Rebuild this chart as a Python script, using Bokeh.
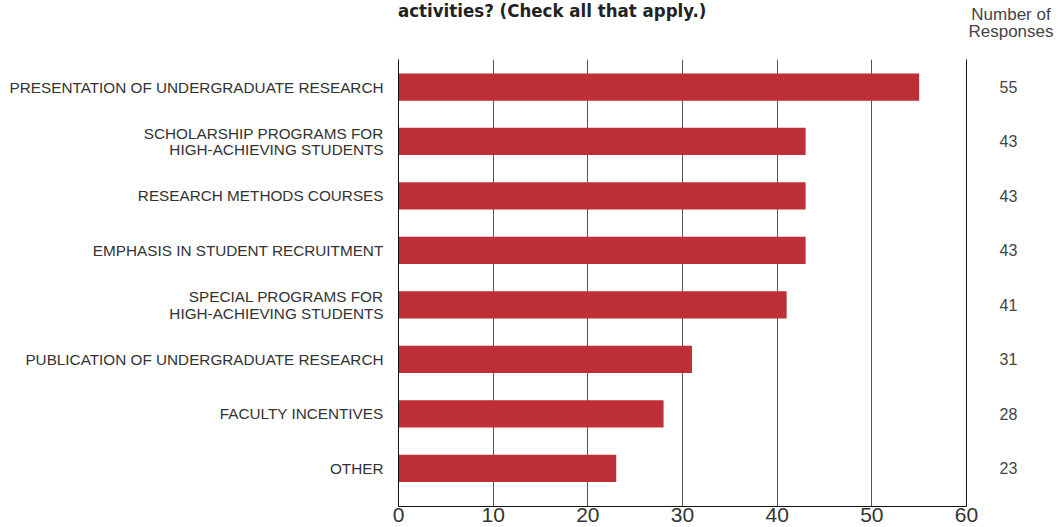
from bokeh.plotting import figure
from bokeh.models import ColumnDataSource, LinearAxis, FixedTicker, Range1d, Div
from bokeh.layouts import column
from bokeh.embed import file_html
from bokeh.resources import INLINE

categories = [
    "PRESENTATION OF UNDERGRADUATE RESEARCH",
    "SCHOLARSHIP PROGRAMS FOR\nHIGH-ACHIEVING STUDENTS",
    "RESEARCH METHODS COURSES",
    "EMPHASIS IN STUDENT RECRUITMENT",
    "SPECIAL PROGRAMS FOR\nHIGH-ACHIEVING STUDENTS",
    "PUBLICATION OF UNDERGRADUATE RESEARCH",
    "FACULTY INCENTIVES",
    "OTHER",
]
responses = [55, 43, 43, 43, 41, 31, 28, 23]
x_ticks = [0, 10, 20, 30, 40, 50, 60]
title_text = "activities? (Check all that apply.)"
header_lines = ["Number of", "Responses"]

n = len(categories)
positions = [n - 1 - i for i in range(n)]
src = ColumnDataSource(dict(pos=positions, value=responses, cat=categories))

FONT = "'Liberation Sans', Arial, sans-serif"
BAR = "#BF2F38"

head = Div(width=1060, height=59, margin=0, text=(
    '<div style="position:relative;width:1060px;height:59px;">'
    '<div style="position:absolute;left:398px;top:1px;white-space:nowrap;'
    "font-family:'Liberation Sans Narrow','DejaVu Sans Condensed',sans-serif;"
    'font-weight:bold;font-size:18.5px;line-height:20px;color:#222;">'
    + title_text + '</div>'
    '<div style="position:absolute;left:966px;width:90px;top:6px;text-align:center;'
    "font-family:'Liberation Sans',Arial,sans-serif;font-size:17px;line-height:17px;"
    'color:#444;white-space:nowrap;">' + "<br>".join(header_lines) + '</div>'
    '</div>'))

p = figure(width=1060, height=468, output_backend="svg", toolbar_location=None,
           x_range=Range1d(0, 60), y_range=Range1d(-0.70, n - 1 + 0.505),
           min_border_left=398, min_border_right=94, min_border_top=0,
           min_border_bottom=21, outline_line_color=None, margin=0)

p.hbar(y="pos", left=0, right="value", height=0.5, source=src,
       fill_color=BAR, line_color=None)

# bottom axis
xa = p.xaxis[0]
xa.ticker = FixedTicker(ticks=x_ticks)
xa.major_tick_line_color = None
xa.minor_tick_line_color = None
xa.axis_line_color = "#111111"
xa.major_label_text_font = FONT
xa.major_label_text_font_size = "21px"
xa.major_label_text_color = "#333333"
xa.major_label_standoff = -5

# left axis with category labels
ya = p.yaxis[0]
ya.ticker = FixedTicker(ticks=positions)
ya.major_label_overrides = {pos: cat for pos, cat in zip(positions, categories)}
ya.major_tick_line_color = None
ya.minor_tick_line_color = None
ya.axis_line_color = "#111111"
ya.major_label_text_font = FONT
ya.major_label_text_font_size = "15.3px"
ya.major_label_text_color = "#333333"
ya.major_label_text_line_height = 0.95
ya.major_label_standoff = 9

# right axis with response counts
ra = LinearAxis(ticker=FixedTicker(ticks=positions),
                major_label_overrides={pos: str(v) for pos, v in zip(positions, responses)})
ra.major_tick_line_color = None
ra.minor_tick_line_color = None
ra.axis_line_color = "#111111"
ra.major_label_text_font = FONT
ra.major_label_text_font_size = "16px"
ra.major_label_text_color = "#444444"
ra.major_label_standoff = 27
p.add_layout(ra, "right")

p.ygrid.grid_line_color = None
p.xgrid.ticker = FixedTicker(ticks=x_ticks)
p.xgrid.grid_line_color = "#555555"
p.xgrid.grid_line_width = 1

layout = column(head, p, spacing=0, margin=0)
open("out.html", "w").write(file_html(layout, INLINE))
